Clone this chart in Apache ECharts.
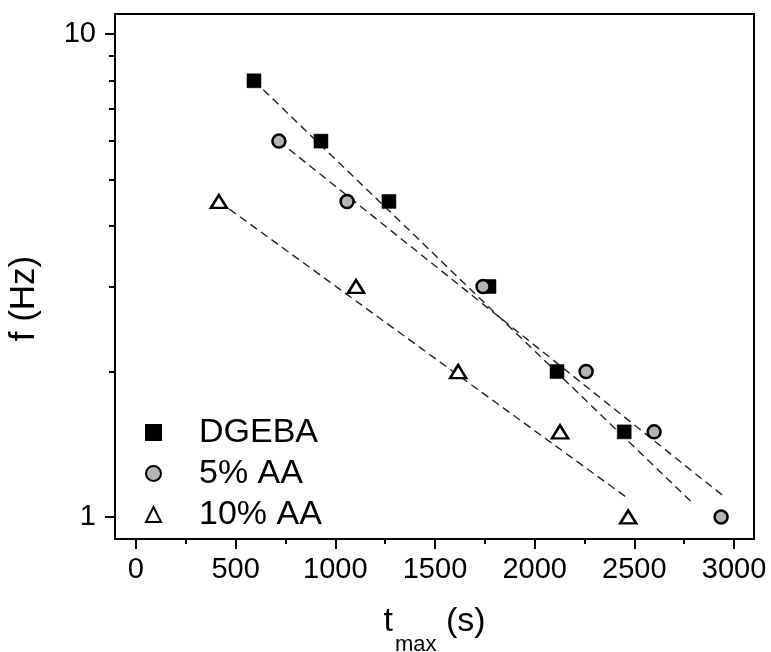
<!DOCTYPE html>
<html>
<head>
<meta charset="utf-8">
<script src="https://cdn.jsdelivr.net/npm/echarts@6/dist/echarts.min.js"></script>
<style>
html,body{margin:0;padding:0;background:#fff;}
#c{width:771px;height:652px;}
</style>
</head>
<body>
<div id="c"></div>
<script>
// ---- data ----
const xTicks = [0, 500, 1000, 1500, 2000, 2500, 3000];
const xMinorTicks = [250, 750, 1250, 1750, 2250, 2750];
const yTicks = [1, 10];
const yMinorTicks = [2, 3, 4, 5, 6, 7, 8, 9];

const seriesNames = ['DGEBA', '5% AA', '10% AA'];

const dgebaT = [592, 928, 1269, 1771, 2112, 2449];
const dgebaF = [8, 6, 4.5, 3, 2, 1.5];
const aa5T = [717, 1059, 1741, 2258, 2599, 2935];
const aa5F = [6, 4.5, 3, 2, 1.5, 1];
const aa10T = [416, 1104, 1616, 2127, 2469];
const aa10F = [4.5, 3, 2, 1.5, 1];

// dashed fit lines (end points)
const dgebaFitT = [592, 2790];
const dgebaFitF = [8.0, 1.07];
const aa5FitT = [717, 2940];
const aa5FitF = [6.0, 1.11];
const aa10FitT = [416, 2464];
const aa10FitF = [4.5, 1.095];

const zip = (a, b) => a.map((v, i) => [v, b[i]]);
const FONT = 'Liberation Sans, Arial, Helvetica, sans-serif';

const chart = echarts.init(document.getElementById('c'), null, {renderer: 'canvas'});

const fitLine = (t, f) => ({
  type: 'line',
  data: zip(t, f),
  symbol: 'none',
  silent: true,
  z: 1,
  lineStyle: {color: '#222', width: 1.4, type: [8, 5]}
});

chart.setOption({
  animation: false,
  backgroundColor: '#fff',
  grid: {
    left: 115, right: 17, top: 14, bottom: 113,
    containLabel: false,
    outerBoundsMode: 'none',
    show: true, borderColor: '#000', borderWidth: 2, backgroundColor: 'transparent'
  },
  legend: {
    orient: 'vertical',
    left: 140,
    top: 407,
    itemWidth: 15,
    itemHeight: 15,
    itemGap: 0,
    data: seriesNames,
    textStyle: {
      fontFamily: FONT, fontSize: 34, color: '#000',
      lineHeight: 41, padding: [0, 0, 0, 33]
    }
  },
  xAxis: [{
    type: 'value',
    min: -105, max: 3100,
    position: 'bottom',
    axisLine: {show: true, onZero: false, lineStyle: {color: '#000', width: 2}},
    axisTick: {show: true, inside: false, length: 10, customValues: xTicks, lineStyle: {color: '#000', width: 2}},
    axisLabel: {customValues: xTicks, margin: 16, fontFamily: FONT, fontSize: 29, color: '#000',
      formatter: v => String(v)},
    splitLine: {show: false},
    name: '{a|t}{b|max}{a| (s)}',
    nameLocation: 'middle',
    nameGap: 49,
    nameTextStyle: {
      fontFamily: FONT, color: '#000',
      rich: {
        a: {fontFamily: FONT, fontSize: 34, color: '#000'},
        b: {fontFamily: FONT, fontSize: 22, color: '#000', padding: [46, 0, 0, 2]}
      }
    }
  }, {
    type: 'value',
    min: -105, max: 3100,
    position: 'bottom',
    axisLine: {show: false, onZero: false},
    axisTick: {show: true, inside: false, length: 5, customValues: xMinorTicks, lineStyle: {color: '#000', width: 2}},
    axisLabel: {show: false},
    splitLine: {show: false}
  }],
  yAxis: [{
    type: 'log',
    logBase: 10,
    min: 0.9, max: 11,
    position: 'left',
    axisLine: {show: true, onZero: false, lineStyle: {color: '#000', width: 2}},
    axisTick: {show: true, inside: false, length: 10, customValues: yTicks, lineStyle: {color: '#000', width: 2}},
    axisLabel: {customValues: yTicks, margin: 19, fontFamily: FONT, fontSize: 29, color: '#000',
      formatter: v => String(v)},
    splitLine: {show: false},
    minorTick: {show: false},
    name: 'f (Hz)',
    nameLocation: 'middle',
    nameGap: 73,
    nameTextStyle: {fontFamily: FONT, fontSize: 35, color: '#000', padding: [0, 44, 0, 0]}
  }, {
    type: 'log',
    logBase: 10,
    min: 0.9, max: 11,
    position: 'left',
    axisLine: {show: false, onZero: false},
    axisTick: {show: true, inside: false, length: 6, customValues: yMinorTicks, lineStyle: {color: '#000', width: 2}},
    axisLabel: {show: false},
    splitLine: {show: false}
  }],
  series: [
    fitLine(dgebaFitT, dgebaFitF),
    fitLine(aa5FitT, aa5FitF),
    fitLine(aa10FitT, aa10FitF),
    {
      name: seriesNames[0], type: 'scatter', z: 3,
      data: zip(dgebaT, dgebaF),
      symbol: 'rect', symbolSize: 14,
      itemStyle: {color: '#000', borderColor: '#000', borderWidth: 0.5, opacity: 1}
    },
    {
      name: seriesNames[1], type: 'scatter', z: 3,
      data: zip(aa5T, aa5F),
      symbol: 'circle', symbolSize: 13,
      itemStyle: {color: '#b4b4b4', borderColor: '#000', borderWidth: 2.5, opacity: 1}
    },
    {
      name: seriesNames[2], type: 'scatter', z: 3,
      data: zip(aa10T, aa10F),
      symbol: 'triangle', symbolSize: [16, 13],
      itemStyle: {color: '#fff', borderColor: '#000', borderWidth: 2.5, opacity: 1}
    }
  ]
});
</script>
</body>
</html>
